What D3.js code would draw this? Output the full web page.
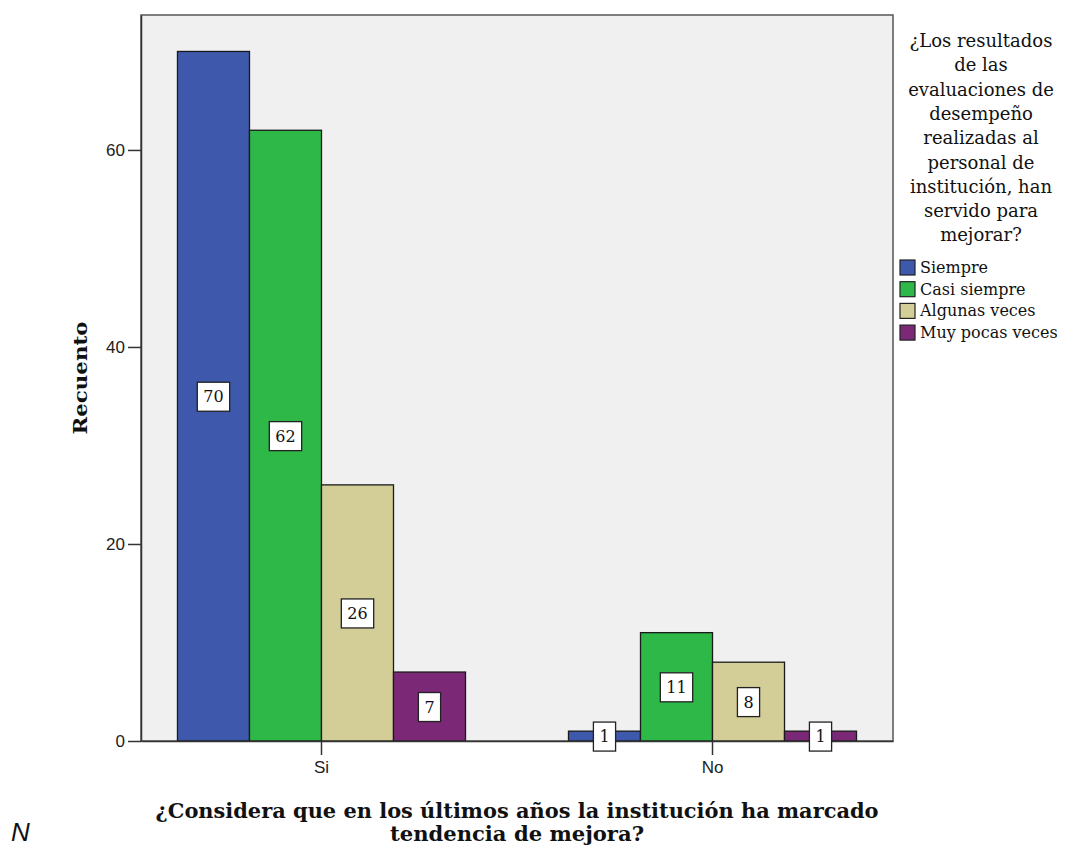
<!DOCTYPE html>
<html><head><meta charset="utf-8">
<script src="https://cdn.jsdelivr.net/npm/d3@7"></script>
<style>body{margin:0;background:#fff;} svg{display:block;}</style>
</head><body>
<svg id="c" width="1067" height="848"></svg>
<script>
const groups = ["Si", "No"];
const seriesNames = ["Siempre", "Casi siempre", "Algunas veces", "Muy pocas veces"];
const siValues = [70, 62, 26, 7];
const noValues = [1, 11, 8, 1];
const yTicks = [0, 20, 40, 60];
const colors = ["#3e58ac", "#2eb848", "#d3ce97", "#7b2877"];
const legendTitle = ["¿Los resultados", "de las", "evaluaciones de", "desempeño", "realizadas al", "personal de", "institución, han", "servido para", "mejorar?"];
const xTitle = ["¿Considera que en los últimos años la institución ha marcado", "tendencia de mejora?"];
const yTitle = "Recuento";

const data = groups.map((g, i) => ({group: g, values: (i === 0 ? siValues : noValues)}));

const svg = d3.select("#c");
const L = 141, R = 893, T = 15, B = 741;

svg.append("rect").attr("x", L).attr("y", T).attr("width", R - L).attr("height", B - T)
  .attr("fill", "#f0f0f0").attr("stroke", "#555").attr("stroke-width", 1.5);

const y = d3.scaleLinear().domain([0, 73.7]).range([B, T]);
const x0 = d3.scaleBand().domain(groups).range([L, R]).paddingInner(0.2634).paddingOuter(0.0933);
const x1 = d3.scaleBand().domain(seriesNames).range([0, x0.bandwidth()]);

const serif = "'DejaVu Serif', serif";
const sans = "'Liberation Sans', Arial, sans-serif";

// bars
const g = svg.append("g");
data.forEach(d => {
  const gg = g.append("g").attr("transform", `translate(${x0(d.group)},0)`);
  gg.selectAll("rect").data(d.values.map((v, i) => ({v, s: seriesNames[i], c: colors[i]})))
    .join("rect")
    .attr("x", e => x1(e.s)).attr("width", x1.bandwidth())
    .attr("y", e => y(e.v)).attr("height", e => y(0) - y(e.v))
    .attr("fill", e => e.c).attr("stroke", "#1a1a1a").attr("stroke-width", 1.3);
});

// axes
const yAxis = d3.axisLeft(y).tickValues(yTicks).tickSize(13).tickSizeOuter(0).tickPadding(3);
const ya = svg.append("g").attr("transform", `translate(${L},0)`).call(yAxis);
ya.select(".domain").attr("stroke", "#333").attr("stroke-width", 1.5);
ya.selectAll(".tick line").attr("stroke", "#333").attr("stroke-width", 1.5);
ya.selectAll(".tick text").attr("font-family", sans).attr("font-size", 17).attr("fill", "#222");

const xAxis = d3.axisBottom(x0).tickSize(14).tickSizeOuter(0).tickPadding(6);
const xa = svg.append("g").attr("transform", `translate(0,${B})`).call(xAxis);
xa.select(".domain").attr("stroke", "#333").attr("stroke-width", 1.5);
xa.selectAll(".tick line").attr("stroke", "#333").attr("stroke-width", 1.5);
xa.selectAll(".tick text").attr("font-family", sans).attr("font-size", 17).attr("fill", "#222");

// value labels
data.forEach(d => {
  d.values.forEach((v, i) => {
    const cx = x0(d.group) + x1(seriesNames[i]) + x1.bandwidth() / 2;
    const cy = y(v / 2);
    const lab = svg.append("g");
    const t = lab.append("text").attr("x", cx).attr("y", cy + 6).attr("text-anchor", "middle")
      .attr("font-family", serif).attr("font-size", 16).attr("fill", "#111").text(v);
    const w = t.node().getComputedTextLength() + 12;
    lab.insert("rect", "text").attr("x", cx - w / 2).attr("y", cy - 14).attr("width", w).attr("height", 29)
      .attr("fill", "#fff").attr("stroke", "#222").attr("stroke-width", 1.3);
  });
});

// y title
svg.append("text").attr("transform", `translate(87,378) rotate(-90)`).attr("text-anchor", "middle")
  .attr("font-family", serif).attr("font-weight", "bold").attr("font-size", 19)
  .attr("textLength", 113).attr("lengthAdjust", "spacingAndGlyphs").attr("fill", "#111").text(yTitle);

// x title
const xLens = [723, 254];
xTitle.forEach((s, i) => {
  svg.append("text").attr("x", 517).attr("y", 818 + i * 23).attr("text-anchor", "middle")
    .attr("font-family", serif).attr("font-weight", "bold").attr("font-size", 20)
    .attr("textLength", xLens[i]).attr("lengthAdjust", "spacingAndGlyphs").attr("fill", "#111").text(s);
});

// N
svg.append("text").attr("x", 11).attr("y", 841).attr("font-family", sans).attr("font-style", "italic")
  .attr("font-size", 26).attr("fill", "#111").text("N");

// legend
legendTitle.forEach((s, i) => {
  svg.append("text").attr("x", 981).attr("y", 47 + i * 24.3).attr("text-anchor", "middle")
    .attr("font-family", serif).attr("font-size", 18).attr("fill", "#111").text(s);
});
const lg = svg.append("g");
seriesNames.forEach((s, i) => {
  const yy = 260 + i * 21.7;
  lg.append("rect").attr("x", 900).attr("y", yy).attr("width", 15).attr("height", 15)
    .attr("fill", colors[i]).attr("stroke", "#222").attr("stroke-width", 1.2);
  lg.append("text").attr("x", 920).attr("y", yy + 13).attr("font-family", serif).attr("font-size", 16)
    .attr("fill", "#111").text(s);
});
</script>
</body></html>
